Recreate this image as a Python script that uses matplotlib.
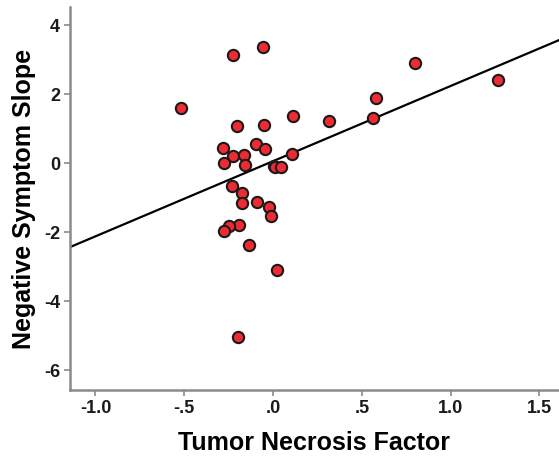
import matplotlib.pyplot as plt
from matplotlib.ticker import FuncFormatter

# data
tnf = [-0.52, -0.224, -0.055, -0.205, -0.049, -0.284, -0.096, -0.045, -0.224, -0.162,
       -0.276, -0.158, 0.007, 0.58, 0.56, 0.115, 0.317, 0.105, 0.011, 0.043,
       0.80, 1.267, -0.233, -0.176, -0.173, -0.092, -0.021, -0.011, -0.19, -0.246,
       -0.274, -0.135, 0.021, -0.195]
slope = [1.60, 3.13, 3.37, 1.07, 1.11, 0.45, 0.55, 0.40, 0.22, 0.25,
         0.02, -0.04, -0.09, 1.89, 1.32, 1.36, 1.22, 0.26, -0.11, -0.11,
         2.92, 2.41, -0.67, -0.85, -1.14, -1.12, -1.27, -1.53, -1.78, -1.83,
         -1.97, -2.38, -3.10, -5.03]
# fit line (intercept, slope)
fit_b0 = 0.06
fit_b1 = 2.18

xticks = [-1.0, -0.5, 0.0, 0.5, 1.0, 1.5]
yticks = [-6, -4, -2, 0, 2, 4]

plt.rcParams['font.family'] = ['Liberation Sans', 'DejaVu Sans']
plt.rcParams['font.weight'] = 'bold'

fig = plt.figure(figsize=(5.59, 4.59), dpi=100)
ax = fig.add_axes([0.125, 0.150, 0.875, 0.834])

xlo, xhi = -1.144, 1.61
ax.plot([xlo, xhi], [fit_b0 + fit_b1 * xlo, fit_b0 + fit_b1 * xhi], color='black', lw=1.6, zorder=2)
ax.scatter(tnf, slope, s=66, facecolor='#ee2a32', edgecolor='#1a1a1a', linewidth=1.5, zorder=3)

ax.set_xlim(xlo, xhi)
ax.set_ylim(-6.58, 4.52)
ax.set_xticks(xticks)
ax.set_yticks(yticks)

def fmt_x(v, pos):
    s = '%.1f' % v
    s = s.replace('0.', '.')
    return s

ax.xaxis.set_major_formatter(FuncFormatter(fmt_x))
ax.yaxis.set_major_formatter(FuncFormatter(lambda v, pos: '%d' % v))

for side in ['top', 'right']:
    ax.spines[side].set_visible(False)
for side in ['left', 'bottom']:
    ax.spines[side].set_color('#8a8a8a')
    ax.spines[side].set_linewidth(1.8)
ax.tick_params(colors='#8a8a8a', width=1.2, length=4, pad=3, labelsize=13, labelcolor='#1a1a1a')
for lab in ax.get_xticklabels() + ax.get_yticklabels():
    lab.set_fontweight('bold')

ax.set_xlabel('Tumor Necrosis Factor', fontsize=18, fontweight='bold', labelpad=10)
ax.set_ylabel('Negative Symptom Slope', fontsize=18, fontweight='bold', labelpad=6)

fig.savefig('out.png', dpi=100)
